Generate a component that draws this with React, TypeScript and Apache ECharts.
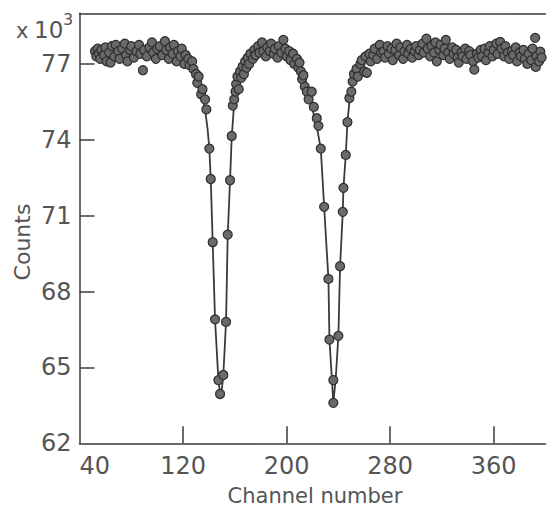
import React, { useEffect, useRef } from "react";
import * as echarts from "echarts";

const measured: number[][] = [
  [52, 77.5], [53, 77.3], [54, 77.6], [55, 77.4], [56, 77.2], [57, 77.55], [59, 77.35], [60, 77.65],
  [61, 77.1], [63, 77.45], [64, 77.05], [65, 77.7], [67, 77.3], [68, 77.75], [70, 77.5], [71, 77.2],
  [73, 77.6], [75, 77.8], [76, 77.35], [77, 77.1], [79, 77.55], [80, 77.7], [82, 77.25], [84, 77.5],
  [86, 77.75], [87, 77.4], [89, 76.75], [90, 77.55], [92, 77.3], [94, 77.65], [96, 77.85], [97, 77.45],
  [99, 77.2], [100, 77.6], [102, 77.7], [104, 77.35], [106, 77.9], [107, 77.55], [109, 77.2], [110, 77.65],
  [112, 77.4], [113, 77.75], [115, 77.1], [116, 77.5], [118, 77.3], [119, 77.6], [121, 77.0], [122, 77.35],
  [124, 77.2], [125, 76.95], [127, 77.1], [128, 76.8], [130, 76.6], [131, 76.25], [132, 76.5], [134, 75.8],
  [135, 76.0], [137, 75.6], [138, 75.2],
  [140.3, 73.65], [141.4, 72.45], [142.9, 69.95], [144.7, 66.9], [147.3, 64.5], [148.6, 63.95],
  [151.1, 64.7], [153.2, 66.8], [154.5, 70.25], [156.3, 72.4], [157.6, 74.15], [158.4, 75.35],
  [159.5, 75.6], [160.5, 75.9], [161, 76.2], [162, 76.5], [163, 76.0], [164, 76.7], [165, 76.45], [166, 76.9],
  [167, 76.6], [168, 77.1], [169, 76.85], [170, 77.25], [171, 77.0], [172, 77.4], [174, 77.2], [175, 77.55],
  [176, 77.35], [178, 77.7], [179, 77.45], [181, 77.85], [182, 77.5], [184, 77.3], [185, 77.65], [187, 77.5],
  [188, 77.8], [190, 77.4], [191, 77.6], [193, 77.25], [194, 77.7], [196, 77.45], [197.5, 77.95], [199, 77.6],
  [200, 77.3], [202, 77.5], [203, 77.15], [205, 77.4], [206, 77.0], [208, 77.2], [209, 76.85], [210, 77.05],
  [211, 76.7], [212, 76.4], [213, 76.55], [214, 76.1], [215.6, 75.9], [217, 75.6],
  [219.4, 75.9], [221, 75.3], [223.3, 74.85], [224.6, 74.55], [226.4, 73.65], [229, 71.35], [232.3, 68.5],
  [233.1, 66.1], [236.1, 64.5], [236.1, 63.6], [240, 66.25], [241.3, 69.0], [243.4, 71.15], [243.9, 72.1],
  [245.7, 73.4], [247, 74.7], [248.5, 75.65],
  [250, 75.9], [251, 76.3], [252, 76.6], [254, 76.8], [255, 76.5], [257, 77.0], [258, 77.15], [260, 76.7],
  [261, 77.3], [262, 76.65], [264, 77.4], [265, 77.1], [267, 77.35], [268, 77.6], [270, 77.2], [272, 77.75],
  [273, 77.45], [275, 77.5], [276, 77.25], [278, 77.7], [279, 77.4], [281, 77.6], [282, 77.15], [284, 77.55],
  [285, 77.8], [287, 77.35], [288, 77.65], [290, 77.2], [291, 77.5], [293, 77.75], [294, 77.4], [296, 77.6],
  [297, 77.25], [299, 77.5], [300, 77.7], [302, 77.35], [303, 77.55], [305, 77.8], [306, 77.45], [308, 78.0],
  [309, 77.6], [311, 77.3], [312, 77.7], [314, 77.45], [315, 77.85], [316, 77.1], [318, 77.55], [319, 77.75],
  [321, 77.35], [322, 77.6], [323, 77.95], [325, 77.45], [326, 77.2], [328, 77.65], [329, 77.4], [331, 77.55],
  [332, 77.25], [333, 77.05], [335, 77.45], [336, 77.3], [338, 77.6], [339, 77.2], [341, 77.5], [342, 77.35],
  [344, 77.1], [345, 76.77], [347, 77.4], [348, 77.25], [350, 77.55], [351, 77.3], [353, 77.6], [354, 77.15],
  [356, 77.45], [357, 77.7], [359, 77.3], [360, 77.55], [362, 77.8], [363, 77.4], [365, 77.87], [366, 77.6],
  [368, 77.3], [369, 77.7], [371, 77.45], [372, 77.2], [374, 77.5], [375, 77.35], [377, 77.65], [378, 77.1],
  [380, 77.45], [381, 77.3], [383, 77.55], [384, 77.2], [386, 77.0], [387, 77.4], [389, 77.15], [390, 77.6],
  [392, 78.03], [392.5, 76.88], [393, 77.3], [395, 77.1], [396, 77.48], [397, 77.25],
];

// Fitted curve
const fitted: number[][] = [
  [52, 77.45], [80, 77.45], [100, 77.4], [110, 77.3], [120, 77.15], [126, 76.95], [130, 76.6], [134, 76.0],
  [137, 75.2], [139, 74.4], [140.3, 73.65], [141.4, 72.45], [142.9, 69.95], [144.7, 66.9], [147.3, 64.5],
  [148.6, 63.95], [150, 64.15], [151.1, 64.7], [153.2, 66.8], [154.5, 70.2], [156.3, 72.4], [157.6, 74.1],
  [159, 75.1], [161, 75.9], [164, 76.5], [168, 76.95], [173, 77.2], [180, 77.35], [190, 77.45], [200, 77.4],
  [208, 77.1], [213, 76.6], [217, 75.9], [220, 75.2], [223, 74.6], [226.4, 73.65], [229, 71.35], [232.3, 68.5],
  [233.1, 66.1], [236.1, 63.6], [238, 64.6], [240, 66.25], [241.3, 69.0], [243.4, 71.15], [243.9, 72.1],
  [245.7, 73.4], [247, 74.7], [248.5, 75.5], [251, 76.2], [255, 76.75], [260, 77.05], [267, 77.3], [275, 77.45],
  [300, 77.5], [350, 77.5], [397, 77.5],
];

const xTickValues = [120, 200, 280, 360];
const xLabelValues = [40, 120, 200, 280, 360];
const yTickValues = [65, 68, 71, 74, 77];
const yLabelValues = [62, 65, 68, 71, 74, 77];

const FONT = "DejaVu Sans";
const INK = "#3a3a3a";
const TEXT = "#555555";

export default function App() {
  const ref = useRef<HTMLDivElement>(null);
  useEffect(() => {
    if (!ref.current) return;
    const chart = echarts.init(ref.current, null, { renderer: "svg" });
    chart.setOption({
      animation: false,
      backgroundColor: "#ffffff",
      grid: { left: 79.5, right: 2.5, top: 13.3, bottom: 65.7 },
      xAxis: [
        {
          type: "value",
          min: 40,
          max: 400,
          interval: 80,
          splitLine: { show: false },
          axisLine: { lineStyle: { color: INK, width: 1.5 } },
          axisTick: {
            show: true,
            inside: true,
            length: 17,
            customValues: xTickValues,
            lineStyle: { color: INK, width: 1.5 },
          },
          axisLabel: {
            customValues: xLabelValues,
            alignMinLabel: "left",
            margin: 11,
            color: TEXT,
            fontFamily: FONT,
            fontSize: 24,
          },
        },
        {
          type: "value",
          position: "top",
          min: 40,
          max: 400,
          splitLine: { show: false },
          axisLine: { onZero: false, lineStyle: { color: INK, width: 1.5 } },
          axisTick: { show: false },
          axisLabel: { show: false },
        },
      ],
      yAxis: {
        type: "value",
        min: 62,
        max: 79,
        interval: 3,
        splitLine: { show: false },
        axisLine: { show: true, lineStyle: { color: INK, width: 1.5 } },
        axisTick: {
          show: true,
          inside: true,
          length: 15,
          customValues: yTickValues,
          lineStyle: { color: INK, width: 1.5 },
        },
        axisLabel: {
          customValues: yLabelValues,
          margin: 8,
          color: TEXT,
          fontFamily: FONT,
          fontSize: 24,
        },
      },
      graphic: [
        {
          type: "text",
          left: 16,
          top: 20,
          style: { text: "x", fill: TEXT, font: `21px "${FONT}"` },
        },
        {
          type: "text",
          left: 34,
          top: 18,
          style: { text: "10", fill: TEXT, font: `23px "${FONT}"` },
        },
        {
          type: "text",
          left: 63,
          top: 11,
          style: { text: "3", fill: TEXT, font: `16px "${FONT}"` },
        },
        {
          type: "text",
          x: 22,
          y: 242,
          rotation: Math.PI / 2,
          style: {
            text: "Counts",
            fill: TEXT,
            font: `22px "${FONT}"`,
            align: "center",
            verticalAlign: "middle",
          },
        },
        {
          type: "text",
          x: 315,
          y: 496,
          style: {
            text: "Channel number",
            fill: TEXT,
            font: `21px "${FONT}"`,
            align: "center",
            verticalAlign: "middle",
          },
        },
      ],
      series: [
        {
          type: "line",
          data: fitted,
          showSymbol: false,
          smooth: false,
          lineStyle: { color: INK, width: 1.8 },
          z: 2,
        },
        {
          type: "scatter",
          data: measured,
          symbol: "circle",
          symbolSize: 9,
          itemStyle: { color: "#6a6a6a", borderColor: "#2e2e2e", borderWidth: 1.2, opacity: 1 },
          z: 3,
        },
      ],
    });
    return () => chart.dispose();
  }, []);
  return (
    <div
      ref={ref}
      style={{ position: "fixed", left: 0, top: 0, width: 548, height: 509, background: "#fff" }}
    />
  );
}
